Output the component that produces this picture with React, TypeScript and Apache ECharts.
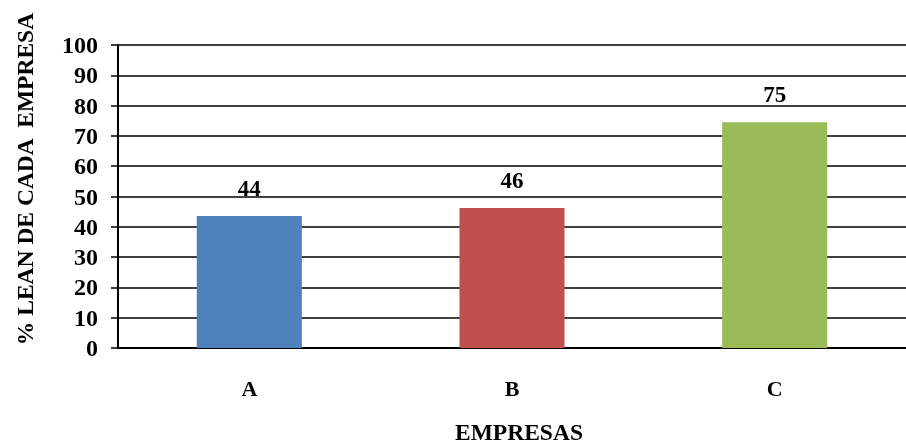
import React, { useEffect, useRef } from "react";
import * as echarts from "echarts";

const categories = ["A", "B", "C"];
const values = [43.6, 46.2, 74.5];
const barColors = ["#4F81BD", "#C0504D", "#9BBB59"];
const yTitle = "% LEAN DE CADA  EMPRESA";
const xTitle = "EMPRESAS";

const FONT = "'Liberation Serif', 'Times New Roman', serif";

export default function App() {
  const ref = useRef<HTMLDivElement>(null);
  useEffect(() => {
    if (!ref.current) return;
    const chart = echarts.init(ref.current, null, { renderer: "svg" });
    chart.setOption({
      animation: false,
      grid: { left: 118, right: -10, top: 45, bottom: 96, containLabel: false },
      xAxis: {
        type: "category",
        data: categories,
        axisLine: { lineStyle: { color: "#000", width: 2 } },
        axisTick: { show: false },
        axisLabel: { margin: 29, color: "#000", fontFamily: FONT, fontWeight: "bold", fontSize: 22 },
        splitLine: { show: false },
      },
      yAxis: {
        type: "value",
        min: 0,
        max: 100,
        interval: 10,
        axisLine: { show: true, lineStyle: { color: "#000", width: 2 } },
        axisTick: { show: true, length: 7, lineStyle: { color: "#000", width: 1.5 } },
        axisLabel: { margin: 20, color: "#000", fontFamily: FONT, fontWeight: "bold", fontSize: 24 },
        splitLine: { show: true, lineStyle: { color: "#000", width: 1.5 } },
      },
      graphic: [
        {
          type: "text",
          x: 25,
          y: 179,
          rotation: Math.PI / 2,
          style: {
            text: yTitle,
            fill: "#000",
            font: `bold 23.5px ${FONT}`,
            align: "center",
            verticalAlign: "middle",
          },
        },
        {
          type: "text",
          x: 519,
          y: 432,
          style: {
            text: xTitle,
            fill: "#000",
            font: `bold 23.5px ${FONT}`,
            align: "center",
            verticalAlign: "middle",
          },
        },
      ],
      series: [
        {
          type: "bar",
          barWidth: "40%",
          data: values.map((v, i) => ({ value: v, itemStyle: { color: barColors[i] } })),
          label: {
            show: true,
            position: "top",
            distance: 16,
            color: "#000",
            fontFamily: FONT,
            fontWeight: "bold",
            fontSize: 23,
            formatter: (p: any) => String(Math.round(p.value)),
          },
        },
      ],
    });
    return () => chart.dispose();
  }, []);
  return (
    <div
      ref={ref}
      style={{ position: "fixed", left: 0, top: 0, width: 906, height: 444 }}
    />
  );
}
